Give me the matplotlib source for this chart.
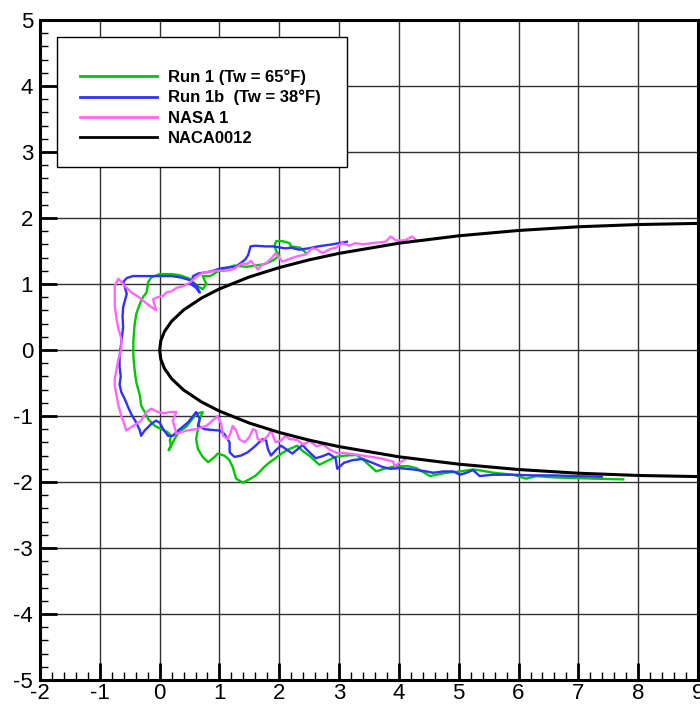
import numpy as np
import matplotlib
matplotlib.use("Agg")
import matplotlib.pyplot as plt
from matplotlib.patches import Rectangle
from matplotlib.ticker import MultipleLocator

plt.rcParams['font.family'] = ['Liberation Sans', 'DejaVu Sans']
plt.rcParams['axes.unicode_minus'] = False

# Run 1 (Tw = 65F) ice trace, upper aft end -> leading edge -> lower aft end
run1_x = [2.45, 2.35, 2.2, 2.17, 2.05, 1.95, 1.92, 1.95, 2.0, 1.9, 1.75, 1.6, 1.45, 1.25, 1.1,
          0.95, 0.85, 0.72, 0.78, 0.72, 0.62, 0.5, 0.35, 0.2, 0.05, 0.0, -0.14, -0.19, -0.22,
          -0.28, -0.33, -0.39, -0.42, -0.44, -0.44, -0.42, -0.39, -0.33, -0.31, -0.25, -0.19,
          -0.08, 0.03, 0.14, 0.19, 0.17, 0.19, 0.15, 0.22, 0.28, 0.35, 0.45, 0.61, 0.72, 0.67,
          0.64, 0.61, 0.64, 0.72, 0.81, 0.92, 0.97, 1.08, 1.16, 1.22, 1.28, 1.39, 1.5, 1.61,
          1.68, 1.75, 1.84, 1.92, 2.05, 2.17, 2.3, 2.39, 2.5, 2.67, 2.8, 2.94, 3.1, 3.29, 3.4,
          3.62, 3.75, 3.96, 4.15, 4.29, 4.52, 4.63, 4.8, 5.02, 5.24, 5.4, 5.58, 5.91, 6.13, 6.3,
          6.58, 6.91, 7.3, 7.75]
run1_y = [1.47, 1.55, 1.57, 1.62, 1.65, 1.65, 1.58, 1.5, 1.43, 1.36, 1.3, 1.28, 1.26, 1.28, 1.24,
          1.18, 1.12, 1.12, 1.0, 0.92, 0.98, 1.08, 1.13, 1.15, 1.15, 1.15, 1.1, 1.03, 0.87,
          0.8, 0.7, 0.55, 0.37, 0.12, -0.09, -0.29, -0.49, -0.69, -0.84, -0.94, -1.05,
          -1.15, -1.2, -1.25, -1.3, -1.37, -1.45, -1.52, -1.4, -1.3, -1.22, -1.16, -0.97, -0.94, -1.05,
          -1.2, -1.35, -1.5, -1.62, -1.7, -1.62, -1.57, -1.6, -1.66, -1.77, -1.95, -2.01, -1.96, -1.9,
          -1.84, -1.77, -1.7, -1.65, -1.56, -1.5, -1.45, -1.53, -1.6, -1.74, -1.68, -1.62, -1.6, -1.59, -1.66,
          -1.84, -1.8, -1.76, -1.76, -1.79, -1.91, -1.89, -1.86, -1.84, -1.81, -1.83, -1.86, -1.89, -1.95, -1.91,
          -1.93, -1.94, -1.95, -1.96]

# Run 1b (Tw = 38F)
run1b_x = [3.13, 2.88, 2.65, 2.49, 2.33, 2.2, 2.1, 1.9, 1.77, 1.6, 1.52, 1.48, 1.43, 1.27, 1.04,
           0.89, 0.8, 0.65, 0.56, 0.52, 0.6, 0.67, 0.62, 0.5, 0.35, 0.2, 0.0, -0.2, -0.45, -0.55,
           -0.61, -0.58, -0.55, -0.58, -0.61, -0.62, -0.61, -0.63, -0.65, -0.67, -0.67, -0.65,
           -0.67, -0.64, -0.58, -0.53, -0.47, -0.39, -0.33, -0.31, -0.25, -0.14, -0.06, 0.0, 0.06,
           0.14, 0.22, 0.31, 0.39, 0.47, 0.56, 0.61, 0.67, 0.64, 0.75, 0.86, 1.0, 1.08, 1.17, 1.17,
           1.25, 1.36, 1.47, 1.58, 1.72, 1.78, 1.81, 1.86, 1.94, 2.03, 2.11, 2.22, 2.31, 2.39,
           2.47, 2.61, 2.72, 2.83, 2.94, 2.97, 3.08, 3.22, 3.39, 3.56, 3.72, 3.85, 4.01, 4.24,
           4.46, 4.57, 4.74, 4.91, 5.02, 5.13, 5.24, 5.35, 5.58, 5.91, 6.24, 6.58, 6.91, 7.39]
run1b_y = [1.64, 1.6, 1.57, 1.54, 1.52, 1.55, 1.54, 1.57, 1.57, 1.58, 1.57, 1.44, 1.37, 1.26, 1.24,
           1.2, 1.18, 1.16, 1.12, 1.0, 0.95, 0.87, 0.97, 1.06, 1.1, 1.12, 1.12, 1.12, 1.12, 1.09,
           1.03, 0.95, 0.85, 0.75, 0.65, 0.5, 0.35, 0.2, 0.05, -0.1, -0.25, -0.4,
           -0.52, -0.64, -0.75, -0.86, -0.98, -1.1, -1.22, -1.3, -1.22, -1.12, -1.07, -1.1, -1.2,
           -1.3, -1.3, -1.22, -1.16, -1.1, -1.0, -0.94, -1.04, -1.15, -1.2, -1.21, -1.22, -1.27, -1.4, -1.55,
           -1.62, -1.6, -1.55, -1.47, -1.35, -1.37, -1.5, -1.6, -1.52, -1.45, -1.5, -1.57, -1.5, -1.44,
           -1.52, -1.64, -1.61, -1.57, -1.64, -1.8, -1.71, -1.67, -1.65, -1.71, -1.77, -1.8, -1.79, -1.81,
           -1.84, -1.86, -1.84, -1.84, -1.89, -1.86, -1.82, -1.91, -1.89, -1.89, -1.9, -1.9, -1.91, -1.92]

# NASA 1
nasa_x = [4.28, 4.22, 4.1, 3.95, 3.86, 3.78, 3.55, 3.4, 3.27, 3.17, 3.05, 2.95, 2.85, 2.72, 2.62,
          2.55, 2.45, 2.3, 2.17, 2.05, 1.98, 1.94, 1.88, 1.8, 1.7, 1.64, 1.57, 1.53, 1.45, 1.38,
          1.22, 1.1, 0.94, 0.8, 0.72, 0.6, 0.5, 0.4, 0.28, 0.2, 0.11, 0.06, -0.03, -0.11, -0.06,
          -0.17, -0.28, -0.38, -0.47, -0.56, -0.63, -0.69, -0.75, -0.75, -0.72, -0.69, -0.64,
          -0.64, -0.69, -0.72, -0.75, -0.75, -0.72, -0.69, -0.64, -0.58, -0.56, -0.44, -0.31,
          -0.22, -0.14, -0.03, 0.08, 0.17, 0.28, 0.22, 0.25, 0.28, 0.45, 0.61, 0.78, 0.92, 0.97,
          1.03, 1.06, 1.14, 1.19, 1.22, 1.28, 1.33, 1.42, 1.5, 1.56, 1.61, 1.64, 1.72, 1.81, 1.86,
          1.94, 2.03, 2.11, 2.17, 2.29, 2.4, 2.51, 2.62, 2.73, 2.84, 2.96, 3.07, 3.4, 3.68, 3.9,
          3.93, 4.01, 4.1]
nasa_y = [1.67, 1.72, 1.66, 1.66, 1.72, 1.64, 1.62, 1.6, 1.62, 1.58, 1.62, 1.55, 1.53, 1.47, 1.53,
          1.54, 1.45, 1.42, 1.38, 1.34, 1.42, 1.47, 1.4, 1.33, 1.28, 1.22, 1.3, 1.35, 1.3, 1.31,
          1.22, 1.2, 1.2, 1.18, 1.17, 1.1, 1.02, 0.97, 0.94, 0.89, 0.87, 0.82, 0.8, 0.77, 0.6,
          0.67, 0.75, 0.82, 0.87, 0.95, 1.02, 1.08, 0.97, 0.67, 0.47, 0.32, 0.17,
          0.02, -0.14, -0.29, -0.44, -0.54, -0.69, -0.84, -1.0, -1.15, -1.22, -1.15, -1.07,
          -0.94, -0.89, -0.94, -0.96, -0.94, -0.94, -1.07, -1.17, -1.27, -1.22, -1.2, -1.15, -1.04, -1.0,
          -1.12, -1.3, -1.35, -1.25, -1.15, -1.22, -1.35, -1.4, -1.32, -1.2, -1.22, -1.35, -1.38, -1.3, -1.22,
          -1.4, -1.37, -1.3, -1.35, -1.36, -1.43, -1.38, -1.46, -1.43, -1.51, -1.56, -1.56, -1.6, -1.64, -1.69,
          -1.76, -1.71, -1.66]

# NACA0012 contour (upper surface; lower surface is its mirror)
naca_x = [0.0, 0.02, 0.08, 0.2, 0.4, 0.7, 1.0, 1.5, 2.0, 2.5, 3.0, 4.0, 5.0, 6.0, 7.0, 8.0, 9.0, 9.5]
naca_y = [0.0, 0.141, 0.279, 0.435, 0.606, 0.787, 0.926, 1.107, 1.249, 1.366, 1.464, 1.618,
          1.730, 1.811, 1.867, 1.901, 1.918, 1.922]

labels = ['Run 1 (Tw = 65°F)', 'Run 1b  (Tw = 38°F)', 'NASA 1', 'NACA0012']
colors = ['#00c800', '#3030ff', '#ff66ff', 'black']

fig = plt.figure(figsize=(7.0, 7.06), dpi=100)
ax = fig.add_axes([40 / 700, 26 / 706, 658 / 700, 660 / 706])

ax.plot(run1_x, run1_y, color=colors[0], lw=1.7, label=labels[0])
ax.plot(run1b_x, run1b_y, color=colors[1], lw=1.7, label=labels[1])
ax.plot(nasa_x, nasa_y, color=colors[2], lw=1.7, label=labels[2])
nx = np.array(naca_x)
ny = np.array(naca_y)
ax.plot(np.concatenate([nx[::-1], nx[1:]]), np.concatenate([ny[::-1], -ny[1:]]),
        color=colors[3], lw=2.2, label=labels[3])

ax.set_xlim(-2, 9)
ax.set_ylim(-5, 5)
ax.xaxis.set_major_locator(MultipleLocator(1))
ax.xaxis.set_minor_locator(MultipleLocator(0.2))
ax.yaxis.set_major_locator(MultipleLocator(1))
ax.yaxis.set_minor_locator(MultipleLocator(0.2))
ax.grid(True, which='major', color='#303030', lw=1.0)
ax.tick_params(which='major', direction='in', length=12, width=2, labelsize=16,
               top=False, right=False)
ax.tick_params(axis='y', which='major', pad=5)
ax.tick_params(axis='x', which='major', pad=2)
ax.tick_params(which='minor', direction='in', length=6, width=1, top=False, right=False)
for s in ax.spines.values():
    s.set_linewidth(2.2)

# legend box (frame drawn separately so the padding matches the original)
ax.add_patch(Rectangle((17 / 658, 513 / 660), 290 / 658, 130 / 660, transform=ax.transAxes,
                       facecolor='white', edgecolor='black', lw=1.0, zorder=4.5))
leg = ax.legend(loc='upper left', bbox_to_anchor=(40 / 658, 611 / 660), borderaxespad=0,
                prop={'weight': 'bold', 'size': 12}, handlelength=4.6, handletextpad=0.7,
                labelspacing=0.32, borderpad=0, frameon=False)
leg.set_zorder(5)
for h in leg.get_lines():
    h.set_linewidth(2)

fig.savefig('out.png', dpi=100)
